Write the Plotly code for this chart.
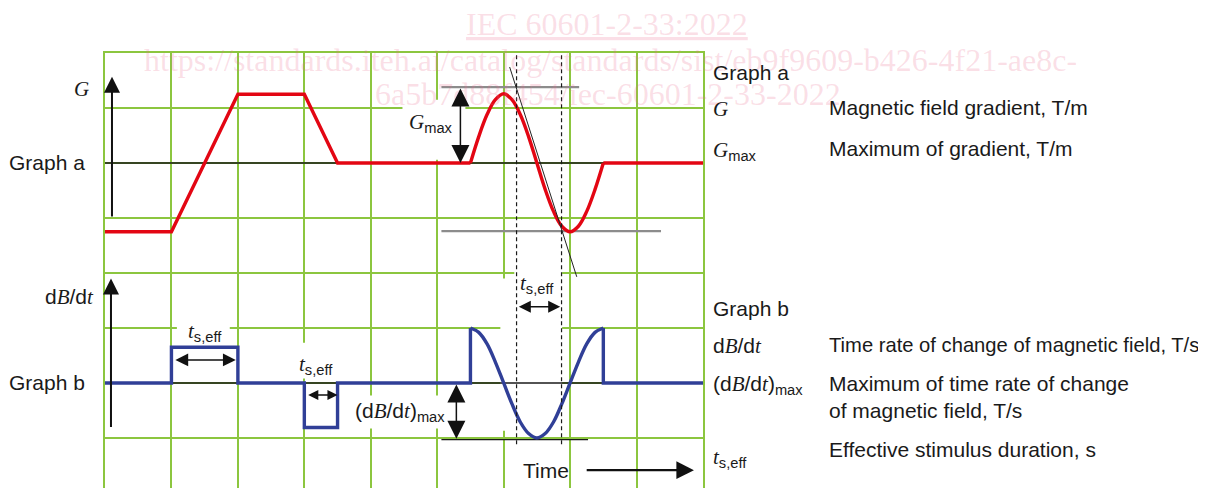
import plotly.graph_objects as go

# ---------------- data (time and amplitude in grid divisions) ----------------
# Graph a : magnetic field gradient G
g_ramp_t = [0, 1, 2, 3, 3.5, 5.5]
g_ramp_v = [-1.25, -1.25, 1.25, 1.25, 0, 0]
g_wave_t = [5.5, 5.625, 5.75, 5.875, 6.0, 6.125, 6.25, 6.375, 6.5,
            6.625, 6.75, 6.875, 7.0, 7.125, 7.25, 7.375, 7.5]
g_wave_v = [0, 0.48, 0.88, 1.15, 1.26, 1.15, 0.88, 0.48, 0,
            -0.48, -0.88, -1.15, -1.25, -1.15, -0.88, -0.48, 0]
g_tail_t = [7.5, 9]
g_tail_v = [0, 0]

# Graph b : dB/dt
db_pulse_t = [0, 1, 1, 2, 2, 3, 3, 3.5, 3.5, 5.5, 5.5]
db_pulse_v = [0, 0, 0.65, 0.65, 0, 0, -0.81, -0.81, 0, 0, 1.0]
db_wave_t = [5.5, 5.625, 5.75, 5.875, 6.0, 6.125, 6.25, 6.375, 6.5,
             6.625, 6.75, 6.875, 7.0, 7.125, 7.25, 7.375, 7.5]
db_wave_v = [1.0, 0.92, 0.71, 0.38, 0, -0.38, -0.71, -0.92, -1.0,
             -0.92, -0.71, -0.38, 0, 0.38, 0.71, 0.92, 1.0]
db_tail_t = [7.5, 7.5, 9]
db_tail_v = [1.0, 0, 0]

# key texts
legend_a_desc = ["Magnetic field gradient, T/m", "Maximum of gradient, T/m"]
legend_b_desc = ["Time rate of change of magnetic field, T/s",
                 "Maximum of time rate of change<br>of magnetic field, T/s",
                 "Effective stimulus duration, s"]

# ---------------- layout geometry ----------------
OFF = 8                      # page body margin of the html page
W, H = 1206 - OFF, 488 - OFF
L, T, B = 105 - OFF, 53 - OFF, 0
R = W - (703.5 - OFF)
PW, PH = W - L - R, H - T - B
B_BASE = -4.0                # graph b baseline expressed on graph a's axis

GREEN = "#8cc63f"
RED = "#e30613"
BLUE = "#303f97"
GRAY = "#8c8c8c"
INK = "#1a1a1a"
SANS = "Liberation Sans, Arial, sans-serif"
SERIF = "Liberation Serif"


def px(x):       # page pixel -> paper x
    return (x - 105) / PW


def py(y):       # page pixel -> paper y
    return (488 - y) / PH


def it(s):
    return f'<span style="font-family:{SERIF}"><i>{s}</i></span>'


G_TXT = it("G")
GMAX_TXT = it("G") + "<sub>max</sub>"
DBDT_TXT = "d" + it("B") + "/d" + it("t")
DBDT_MAX_TXT = "(" + DBDT_TXT + ")<sub>max</sub>"
TSEFF_TXT = it("t") + "<sub>s,eff</sub>"

fig = go.Figure()
for tt, vv, col, ya, shape in [
    (g_ramp_t, g_ramp_v, RED, "y", "linear"),
    (g_wave_t, g_wave_v, RED, "y", "spline"),
    (g_tail_t, g_tail_v, RED, "y", "linear"),
    (db_pulse_t, db_pulse_v, BLUE, "y2", "linear"),
    (db_wave_t, db_wave_v, BLUE, "y2", "spline"),
    (db_tail_t, db_tail_v, BLUE, "y2", "linear"),
]:
    fig.add_trace(go.Scatter(x=tt, y=vv, mode="lines", yaxis=ya,
                             line=dict(color=col, width=3.4, shape=shape),
                             hoverinfo="skip", showlegend=False))

shapes = []


def rect(x0, x1, y0, y1):
    shapes.append(dict(type="rect", xref="x", yref="y", x0=x0, x1=x1, y0=y0, y1=y1,
                       fillcolor="white", line=dict(width=0), layer="between"))


def seg(x0, y0, x1, y1, color=INK, width=1, dash=None, layer="between"):
    d = dict(type="line", xref="x", yref="y", x0=x0, x1=x1, y0=y0, y1=y1,
             line=dict(color=color, width=width), layer=layer)
    if dash:
        d["line"]["dash"] = dash
    shapes.append(d)


# white backgrounds behind labels (hide grid)
rect(4.477, 5.424, 0.06, 1.15)                          # G_max label
rect(1.082, 1.878, B_BASE + 0.77, B_BASE + 1.17)        # t_s,eff 1
rect(2.87, 3.30, B_BASE + 0.08, B_BASE + 0.73)          # t_s,eff 2
rect(3.68, 5.18, B_BASE - 0.83, B_BASE - 0.23)          # (dB/dt)max
rect(6.16, 6.88, B_BASE + 1.45, B_BASE + 2.04)          # t_s,eff top
rect(5.95, 6.88, B_BASE - 0.87, B_BASE + 1.9)

# baselines
seg(0, 0, 9, 0, width=1.5)
seg(0, B_BASE, 9, B_BASE, width=1.5)
# gray reference lines for G
seg(5.063, 1.38, 7.136, 1.38, color=GRAY, width=2.2)
seg(5.063, -1.24, 8.368, -1.24, color=GRAY, width=2.2)
# black reference line for dB/dt max
seg(5.063, B_BASE - 1.03, 7.27, B_BASE - 1.03, width=1.2)
# dashed lines (span both graphs)
seg(6.194, 1.96, 6.194, -5.16, width=1.2, dash="4px,3px", layer="above")
seg(6.871, 1.96, 6.871, -5.16, width=1.2, dash="4px,3px", layer="above")
# tangent
seg(6.09, 1.745, 7.10, -2.07, color="#222", width=1, layer="above")

ann = []


def txt(text, x, y, xref="x", yref="y", xanchor="center", size=21, family=SANS, color=INK):
    ann.append(dict(text=text, x=x, y=y, xref=xref, yref=yref, xanchor=xanchor,
                    yanchor="middle", showarrow=False,
                    font=dict(size=size, family=family, color=color), align="left"))


def arrow(x, y, ax, ay, yref="y", both=False, width=1.5, size=1.5):
    ann.append(dict(text="", x=x, y=y, ax=ax, ay=ay, xref="x", yref=yref, axref="x", ayref=yref,
                    showarrow=True, arrowhead=2, arrowsize=size, arrowwidth=width,
                    arrowcolor="#111", arrowside="end+start" if both else "end",
                    startarrowhead=2, startarrowsize=size, standoff=0, startstandoff=0))


# watermark
WM = "rgba(235,110,145,0.22)"
txt("<u>IEC 60601-2-33:2022</u>", px(607), py(24), "paper", "paper", "center", 32, SERIF, WM)
txt("https://standards.iteh.ai/catalog/standards/sist/eb9f9609-b426-4f21-ae8c-", px(142), py(60),
    "paper", "paper", "left", 32, SERIF, WM)
txt("6a5b7d88f454/iec-60601-2-33-2022", px(373), py(94), "paper", "paper", "left", 32, SERIF, WM)

# left labels
txt("Graph a", px(87), 0, "paper", "y", "right")
txt(G_TXT, px(91), 1.35, "paper", "y", "right")
txt("Graph b", px(87), 0, "paper", "y2", "right")
txt(DBDT_TXT, px(96), 1.57, "paper", "y2", "right")

# in-plot labels
txt(GMAX_TXT, 5.26, 0.72, "x", "y", "right")
txt(TSEFF_TXT, 1.50, 0.93, "x", "y2", "center")
txt(TSEFF_TXT, 3.17, 0.32, "x", "y2", "center")
txt(DBDT_MAX_TXT, 5.14, -0.52, "x", "y2", "right")
txt(TSEFF_TXT, 6.505, 1.8, "x", "y2", "center")
txt("Time", 6.26, -1.585, "x", "y2", "left")

# right-hand key
txt("Graph a", px(712), 1.64, "paper", "y", "left")
txt(G_TXT, px(712), 0.98, "paper", "y", "left")
txt(legend_a_desc[0], px(828), 1.0, "paper", "y", "left")
txt(GMAX_TXT, px(712), 0.22, "paper", "y", "left")
txt(legend_a_desc[1], px(828), 0.26, "paper", "y", "left")
txt("Graph b", px(712), 1.36, "paper", "y2", "left")
for sym, desc, ys, yd, fs in zip([DBDT_TXT, DBDT_MAX_TXT, TSEFF_TXT], legend_b_desc,
                                 [0.68, -0.04, -1.36], [0.69, -0.26, -1.21], [20.2, 21, 21]):
    txt(sym, px(712), ys, "paper", "y2", "left")
    txt(desc, px(828), yd, "paper", "y2", "left", size=fs)

# arrows
arrow(0.105, 1.57, 0.105, -1.0, "y", width=2, size=1.6)
arrow(0.09, 1.90, 0.09, -0.83, "y2", width=2, size=1.6)
arrow(1.968, 0.418, 1.037, 0.418, "y2", both=True, width=1.6, size=1.6)
arrow(3.50, -0.218, 3.035, -0.218, "y2", both=True, width=1.5, size=1.35)
arrow(5.349, 0.0, 5.349, 1.38, "y", both=True, width=1.5, size=2.4)
arrow(5.288, -1.015, 5.288, 0.0, "y2", both=True, width=1.5, size=2.4)
arrow(6.851, 1.387, 6.205, 1.387, "y2", both=True, width=1.6, size=1.5)
arrow(8.864, -1.585, 7.227, -1.585, "y2", width=2.2, size=1.6)

fig.update_layout(
    width=W, height=H, margin=dict(l=L, r=R, t=T, b=B, autoexpand=False),
    paper_bgcolor="white", plot_bgcolor="white", showlegend=False,
    font=dict(family=SANS, size=21, color=INK),
    xaxis=dict(range=[0, 9], tick0=0, dtick=1, showgrid=True, gridcolor=GREEN, gridwidth=1.7,
               zeroline=False, showticklabels=False, ticks="", side="top",
               showline=True, linecolor=GREEN, linewidth=1.7, mirror=False, fixedrange=True),
    yaxis=dict(range=[-5.91, 2], tick0=0, dtick=1, showgrid=True, gridcolor=GREEN, gridwidth=1.7,
               zeroline=False, showticklabels=False, ticks="",
               showline=True, linecolor=GREEN, linewidth=1.7, mirror=True, fixedrange=True),
    yaxis2=dict(range=[-5.91 - B_BASE, 2 - B_BASE], overlaying="y", showgrid=False, zeroline=False,
                showticklabels=False, ticks="", showline=False, fixedrange=True),
    shapes=shapes, annotations=ann,
)

fig.write_html("out.html")
